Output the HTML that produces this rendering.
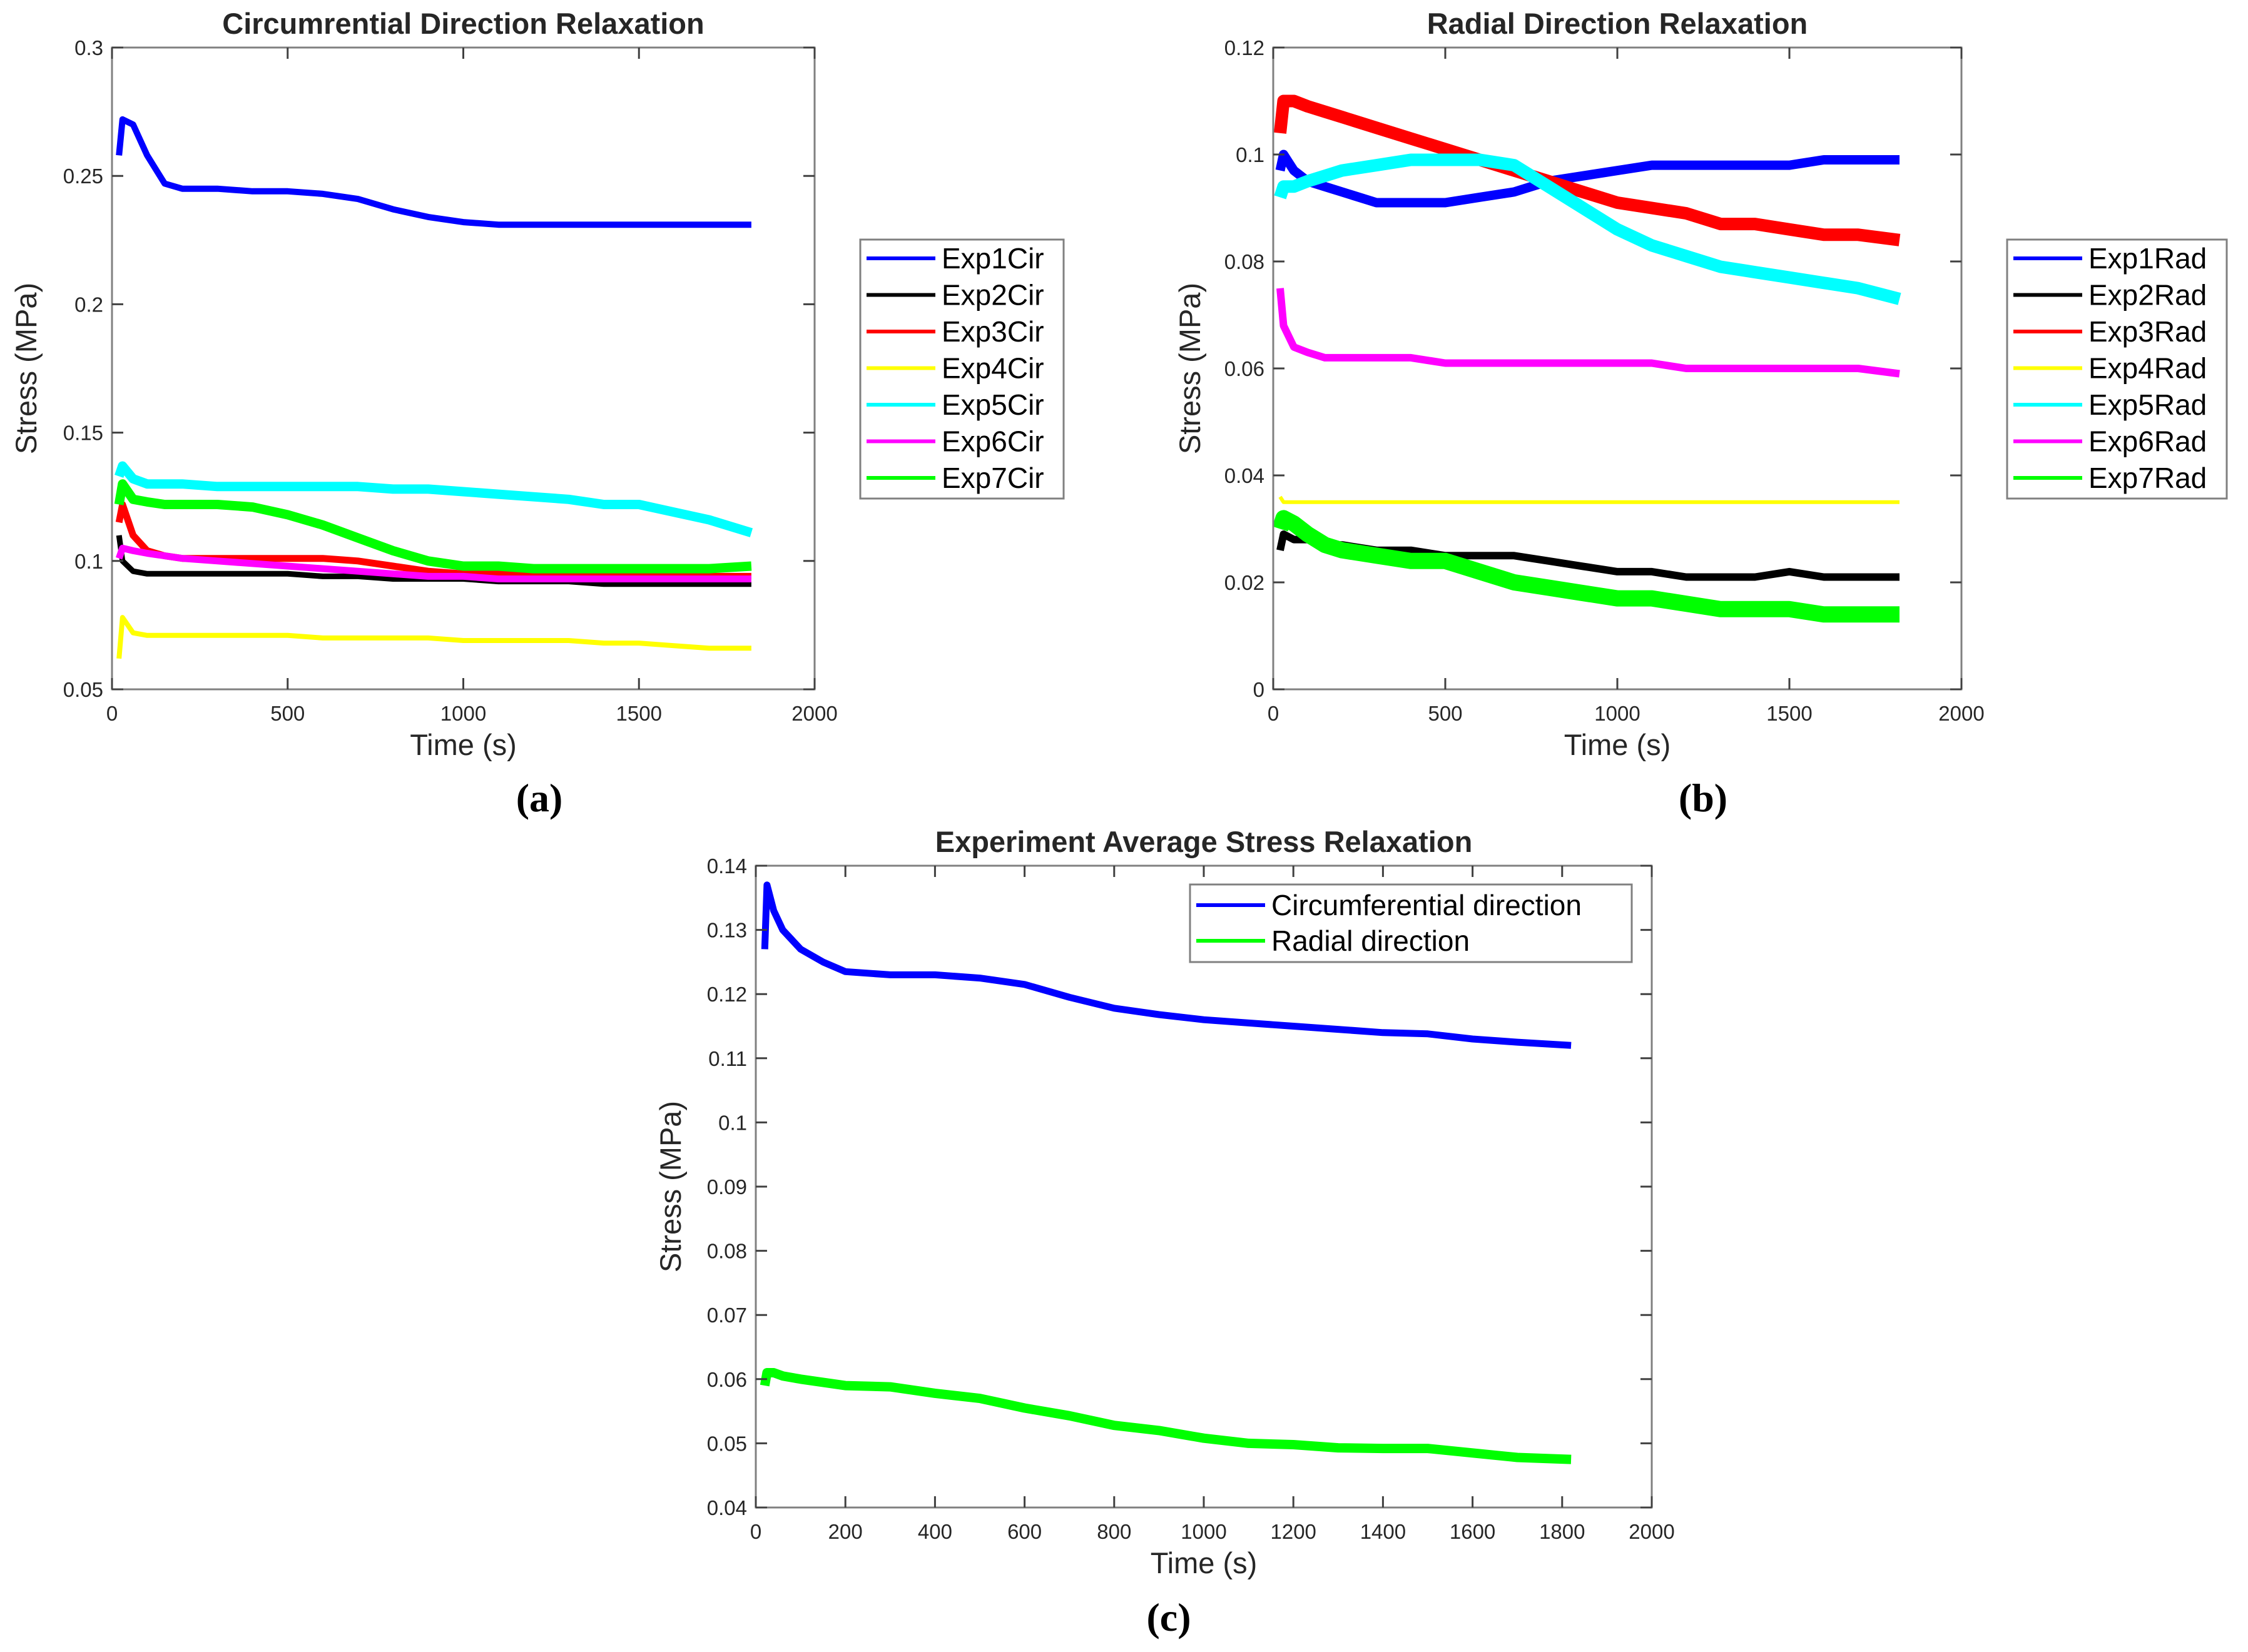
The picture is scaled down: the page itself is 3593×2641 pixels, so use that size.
<!DOCTYPE html>
<html><head><meta charset="utf-8"><style>
html,body{margin:0;padding:0;background:#fff;}
svg{display:block;font-family:"Liberation Sans",Arial,sans-serif;}
</style></head>
<body>
<svg id="fig" width="3593" height="2641" viewBox="0 0 3593 2641" xmlns="http://www.w3.org/2000/svg"></svg>
<script>
// ---- data ----
const timesAB = [20,30,60,100,150,200,300,400,500,600,700,800,900,1000,1100,1200,1300,1400,1500,1600,1700,1820];
const cirExp1 = [0.258,0.272,0.270,0.258,0.247,0.245,0.245,0.244,0.244,0.243,0.241,0.237,0.234,0.232,0.231,0.231,0.231,0.231,0.231,0.231,0.231,0.231];
const cirExp2 = [0.110,0.100,0.096,0.095,0.095,0.095,0.095,0.095,0.095,0.094,0.094,0.093,0.093,0.093,0.092,0.092,0.092,0.091,0.091,0.091,0.091,0.091];
const cirExp3 = [0.115,0.122,0.110,0.104,0.102,0.101,0.101,0.101,0.101,0.101,0.100,0.098,0.096,0.095,0.095,0.095,0.094,0.094,0.094,0.094,0.094,0.094];
const cirExp4 = [0.062,0.078,0.072,0.071,0.071,0.071,0.071,0.071,0.071,0.070,0.070,0.070,0.070,0.069,0.069,0.069,0.069,0.068,0.068,0.067,0.066,0.066];
const cirExp5 = [0.133,0.137,0.132,0.130,0.130,0.130,0.129,0.129,0.129,0.129,0.129,0.128,0.128,0.127,0.126,0.125,0.124,0.122,0.122,0.119,0.116,0.111];
const cirExp6 = [0.101,0.105,0.104,0.103,0.102,0.101,0.100,0.099,0.098,0.097,0.096,0.095,0.094,0.094,0.093,0.093,0.093,0.093,0.093,0.093,0.093,0.093];
const cirExp7 = [0.122,0.130,0.124,0.123,0.122,0.122,0.122,0.121,0.118,0.114,0.109,0.104,0.100,0.098,0.098,0.097,0.097,0.097,0.097,0.097,0.097,0.098];
const radExp1 = [0.097,0.100,0.097,0.095,0.094,0.093,0.091,0.091,0.091,0.092,0.093,0.095,0.096,0.097,0.098,0.098,0.098,0.098,0.098,0.099,0.099,0.099];
const radExp2 = [0.026,0.029,0.028,0.028,0.027,0.027,0.026,0.026,0.025,0.025,0.025,0.024,0.023,0.022,0.022,0.021,0.021,0.021,0.022,0.021,0.021,0.021];
const radExp3 = [0.104,0.110,0.110,0.109,0.108,0.107,0.105,0.103,0.101,0.099,0.097,0.095,0.093,0.091,0.090,0.089,0.087,0.087,0.086,0.085,0.085,0.084];
const radExp4 = [0.036,0.035,0.035,0.035,0.035,0.035,0.035,0.035,0.035,0.035,0.035,0.035,0.035,0.035,0.035,0.035,0.035,0.035,0.035,0.035,0.035,0.035];
const radExp5 = [0.092,0.094,0.094,0.095,0.096,0.097,0.098,0.099,0.099,0.099,0.098,0.094,0.090,0.086,0.083,0.081,0.079,0.078,0.077,0.076,0.075,0.073];
const radExp6 = [0.075,0.068,0.064,0.063,0.062,0.062,0.062,0.062,0.061,0.061,0.061,0.061,0.061,0.061,0.061,0.060,0.060,0.060,0.060,0.060,0.060,0.059];
const radExp7 = [0.030,0.032,0.031,0.029,0.027,0.026,0.025,0.024,0.024,0.022,0.020,0.019,0.018,0.017,0.017,0.016,0.015,0.015,0.015,0.014,0.014,0.014];
const timesC = [20,25,40,60,100,150,200,300,400,500,600,700,800,900,1000,1100,1200,1300,1400,1500,1600,1700,1820];
const avgCirc = [0.127,0.137,0.133,0.130,0.127,0.125,0.1235,0.123,0.123,0.1225,0.1215,0.1195,0.1178,0.1168,0.116,0.1155,0.115,0.1145,0.114,0.1138,0.113,0.1125,0.112];
const avgRad = [0.059,0.061,0.061,0.0605,0.060,0.0595,0.059,0.0588,0.0578,0.057,0.0555,0.0543,0.0528,0.052,0.0508,0.050,0.0498,0.0493,0.0492,0.0492,0.0485,0.0478,0.0475];
const xTicksAB = [0,500,1000,1500,2000];
const yTicksA = [0.05,0.1,0.15,0.2,0.25,0.3];
const yTickLabelsA = ["0.05","0.1","0.15","0.2","0.25","0.3"];
const yTicksB = [0,0.02,0.04,0.06,0.08,0.1,0.12];
const yTickLabelsB = ["0","0.02","0.04","0.06","0.08","0.1","0.12"];
const xTicksC = [0,200,400,600,800,1000,1200,1400,1600,1800,2000];
const yTicksC = [0.04,0.05,0.06,0.07,0.08,0.09,0.1,0.11,0.12,0.13,0.14];
const yTickLabelsC = ["0.04","0.05","0.06","0.07","0.08","0.09","0.1","0.11","0.12","0.13","0.14"];
const namesA = ["Exp1Cir","Exp2Cir","Exp3Cir","Exp4Cir","Exp5Cir","Exp6Cir","Exp7Cir"];
const namesB = ["Exp1Rad","Exp2Rad","Exp3Rad","Exp4Rad","Exp5Rad","Exp6Rad","Exp7Rad"];
const namesC = ["Circumferential direction","Radial direction"];

const colors = ["#0000ff","#000000","#ff0000","#ffff00","#00ffff","#ff00ff","#00ff00"];
const svg = document.getElementById('fig');
const NS = "http://www.w3.org/2000/svg";
function mk(tag, attrs, parent){const e=document.createElementNS(NS,tag);for(const k in attrs)e.setAttribute(k,attrs[k]);(parent||svg).appendChild(e);return e;}
function txt(s, attrs, parent){const e=mk('text',attrs,parent);e.textContent=s;return e;}

function panel(cfg){
  const g = mk('g',{});
  
  
  const L=cfg.L,R=cfg.R,T=cfg.T,B=cfg.B;
  const sx = v => L + (v-cfg.x0)/(cfg.x1-cfg.x0)*(R-L);
  const sy = v => B - (v-cfg.y0)/(cfg.y1-cfg.y0)*(B-T);
  mk('rect',{x:L,y:T,width:R-L,height:B-T,fill:'#fff'},g);
  cfg.series.forEach((s,i)=>{
    let d='';
    s.vals.forEach((v,j)=>{d+=(j?'L':'M')+sx(s.t[j]).toFixed(1)+' '+sy(v).toFixed(1);});
    const p = mk('path',{d:d,fill:'none',stroke:s.color,'stroke-width':s.w,'stroke-linejoin':'round'},g);
    
    
  });
  const box = mk('rect',{x:L,y:T,width:R-L,height:B-T,fill:'none',stroke:'#808080','stroke-width':3},g);
  
  
  const tl=18;
  cfg.xt.forEach(v=>{
    const x=sx(v);
    mk('line',{x1:x,y1:B,x2:x,y2:B-tl,stroke:'#404040','stroke-width':3},g);
    mk('line',{x1:x,y1:T,x2:x,y2:T+tl,stroke:'#404040','stroke-width':3},g);
    const t=txt(String(v),{x:x,y:B+50,'font-size':33,'text-anchor':'middle',fill:'#262626'},g);
    
    
  });
  cfg.yt.forEach((v,i)=>{
    const y=sy(v);
    mk('line',{x1:L,y1:y,x2:L+tl,y2:y,stroke:'#404040','stroke-width':3},g);
    mk('line',{x1:R,y1:y,x2:R-tl,y2:y,stroke:'#404040','stroke-width':3},g);
    const t=txt(cfg.ytl[i],{x:L-14,y:y+12,'font-size':33,'text-anchor':'end',fill:'#262626'},g);
    
    
  });
  const ti=txt(cfg.title,{x:(L+R)/2,y:T-22,'font-size':47,'font-weight':'bold','text-anchor':'middle',fill:'#262626'},g);
  
  
  const xl=txt('Time (s)',{x:(L+R)/2,y:B+105,'font-size':47,'text-anchor':'middle',fill:'#262626'},g);
  
  
  const yx=cfg.ylx, yy=(T+B)/2;
  const yl=txt('Stress (MPa)',{x:yx,y:yy,'font-size':47,'text-anchor':'middle',fill:'#262626',transform:`rotate(-90 ${yx} ${yy})`},g);
  
  
  const lg=cfg.leg;
  const lgG=mk('g',{},g);
  
  
  mk('rect',{x:lg.x,y:lg.y,width:lg.w,height:lg.h,fill:'#fff',stroke:'#808080','stroke-width':3},lgG);
  cfg.series.forEach((s,i)=>{
    const cy=lg.y+lg.pad+i*lg.dy;
    const e=mk('g',{},lgG);
    
    
    mk('line',{x1:lg.x+10,y1:cy,x2:lg.x+lg.lineW,y2:cy,stroke:s.color,'stroke-width':6},e);
    txt(s.label,{x:lg.x+lg.lineW+10,y:cy+16,'font-size':46,fill:'#000'},e);
  });
  const sub=txt(cfg.sub,{x:cfg.subx,y:cfg.suby,'font-size':64,'font-weight':'bold','text-anchor':'middle','font-family':'Liberation Serif, serif',fill:'#000'},g);
  
  
}

const widthsA=[10,9,11,8,15,11,15];
const widthsB=[15,12,20,6,20,12,26];
panel({name:'panel-a-circumferential',L:179,R:1302,T:76,B:1102,x0:0,x1:2000,y0:0.05,y1:0.3,
  xt:xTicksAB,yt:yTicksA,ytl:yTickLabelsA,title:'Circumrential Direction Relaxation',ylx:58,
  series:[cirExp1,cirExp2,cirExp3,cirExp4,cirExp5,cirExp6,cirExp7].map((v,i)=>({t:timesAB,vals:v,color:colors[i],w:widthsA[i],label:namesA[i]})),
  leg:{x:1375,y:383,w:325,h:414,pad:30,dy:58.5,lineW:120},sub:'(a)',subx:862,suby:1297});
panel({name:'panel-b-radial',L:2035,R:3135,T:76,B:1102,x0:0,x1:2000,y0:0,y1:0.12,
  xt:xTicksAB,yt:yTicksB,ytl:yTickLabelsB,title:'Radial Direction Relaxation',ylx:1918,
  series:[radExp1,radExp2,radExp3,radExp4,radExp5,radExp6,radExp7].map((v,i)=>({t:timesAB,vals:v,color:colors[i],w:widthsB[i],label:namesB[i]})),
  leg:{x:3208,y:383,w:351,h:414,pad:30,dy:58.5,lineW:120},sub:'(b)',subx:2722,suby:1297});
panel({name:'panel-c-average',L:1208,R:2640,T:1384,B:2410,x0:0,x1:2000,y0:0.04,y1:0.14,
  xt:xTicksC,yt:yTicksC,ytl:yTickLabelsC,title:'Experiment Average Stress Relaxation',ylx:1088,
  series:[{t:timesC,vals:avgCirc,color:'#0000ff',w:11,label:namesC[0]},{t:timesC,vals:avgRad,color:'#00ff00',w:15,label:namesC[1]}],
  leg:{x:1902,y:1414,w:706,h:124,pad:33,dy:57,lineW:120},sub:'(c)',subx:1868,suby:2607});
</script>
</body></html>
